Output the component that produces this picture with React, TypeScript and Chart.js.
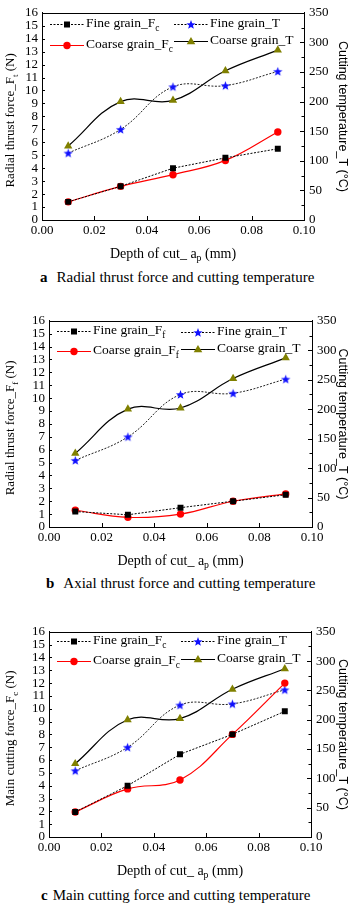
import React, { useEffect, useRef } from 'react';
import { Chart, registerables } from 'chart.js';

Chart.register(...registerables);

// ---------- data ----------
const depthOfCut = [0.01, 0.03, 0.05, 0.07, 0.09];
const xTickValues = [0, 0.02, 0.04, 0.06, 0.08, 0.1];
const forceTickValues = [0, 1, 2, 3, 4, 5, 6, 7, 8, 9, 10, 11, 12, 13, 14, 15, 16];
const tempTickValues = [0, 50, 100, 150, 200, 250, 300, 350];

const fineTemp = [113, 153, 225, 227, 251];
const coarseTemp = [125, 200, 202, 252, 287];

const fineRadial = [1.4, 2.6, 4.0, 4.8, 5.5];
const coarseRadial = [1.4, 2.6, 3.5, 4.6, 6.8];

const fineAxial = [1.2, 0.95, 1.5, 2.0, 2.5];
const coarseAxial = [1.3, 0.75, 1.0, 2.0, 2.57];

const fineMain = [1.95, 4.0, 6.45, 8.0, 9.8];
const coarseMain = [1.95, 3.75, 4.45, 8.0, 12.0];

const SERIF = "'Liberation Serif', 'Times New Roman', serif";
const SANS = "'Liberation Sans', Arial, sans-serif";

Chart.defaults.font.family = SERIF;
Chart.defaults.font.size = 13;
Chart.defaults.color = '#000';

type Part = [string, boolean];

type PanelDef = {
  plotTop: number;
  plotBottom: number;
  plotLeft: number;
  plotRight: number;
  fine: number[];
  coarse: number[];
  sub: string;
  yTitle: Part[];
  letter: string;
  caption: string;
  captionY: number;
  captionLeft: number;
  captionGap: number;
  legendRowsLeft: [number, number];
  legendRowsRight: [number, number];
};

const panels: PanelDef[] = [
  {
    plotTop: 9, plotBottom: 220, plotLeft: 42, plotRight: 304,
    fine: fineRadial, coarse: coarseRadial, sub: 'c',
    yTitle: [['Radial thrust force_F', false], ['t', true], [' (N)', false]],
    letter: 'a', caption: 'Radial thrust force and cutting temperature',
    captionY: 277, captionLeft: 40, captionGap: 9,
    legendRowsLeft: [11, 32], legendRowsRight: [11, 28],
  },
  {
    plotTop: 317, plotBottom: 527, plotLeft: 49, plotRight: 312,
    fine: fineAxial, coarse: coarseAxial, sub: 'f',
    yTitle: [['Radial thrust force_F', false], ['f', true], [' (N)', false]],
    letter: 'b', caption: 'Axial thrust force and cutting temperature',
    captionY: 583, captionLeft: 46, captionGap: 9,
    legendRowsLeft: [10, 30], legendRowsRight: [11, 28],
  },
  {
    plotTop: 628, plotBottom: 837, plotLeft: 49, plotRight: 311,
    fine: fineMain, coarse: coarseMain, sub: 'c',
    yTitle: [['Main cutting force_F', false], ['c', true], [' (N)', false]],
    letter: 'c', caption: 'Main cutting force and cutting temperature',
    captionY: 895, captionLeft: 41, captionGap: 5,
    legendRowsLeft: [9, 29], legendRowsRight: [9, 27],
  },
];

function drawRich(ctx: CanvasRenderingContext2D, parts: Part[], x: number, y: number, align: 'left' | 'center', size: number, family: string) {
  const fontFor = (sub: boolean) => `${sub ? size * 0.7 : size}px ${family}`;
  let total = 0;
  for (const [t, sub] of parts) {
    ctx.font = fontFor(sub);
    total += ctx.measureText(t).width;
  }
  let cx = align === 'center' ? x - total / 2 : x;
  ctx.textAlign = 'left';
  ctx.textBaseline = 'middle';
  for (const [t, sub] of parts) {
    ctx.font = fontFor(sub);
    ctx.fillText(t, cx, sub ? y + size * 0.32 : y);
    cx += ctx.measureText(t).width;
  }
}

function starPath(ctx: CanvasRenderingContext2D, cx: number, cy: number, ro: number, ri: number) {
  ctx.beginPath();
  for (let i = 0; i < 10; i++) {
    const r = i % 2 === 0 ? ro : ri;
    const a = -Math.PI / 2 + (i * Math.PI) / 5;
    const px = cx + r * Math.cos(a);
    const py = cy + r * Math.sin(a);
    if (i === 0) ctx.moveTo(px, py); else ctx.lineTo(px, py);
  }
  ctx.closePath();
}

function makeStar(): HTMLCanvasElement {
  const c = document.createElement('canvas');
  c.width = 11; c.height = 11;
  const g = c.getContext('2d')!;
  g.fillStyle = '#1010ff';
  starPath(g, 5.5, 5.9, 4.9, 2.0);
  g.fill();
  return c;
}

function drawMarker(ctx: CanvasRenderingContext2D, type: string, x: number, y: number) {
  ctx.save();
  ctx.setLineDash([]);
  if (type === 'rect') {
    ctx.fillStyle = '#000';
    ctx.fillRect(x - 3, y - 3, 6, 6);
  } else if (type === 'circle') {
    ctx.fillStyle = '#ff0000';
    ctx.beginPath();
    ctx.arc(x, y, 3.7, 0, Math.PI * 2);
    ctx.fill();
  } else if (type === 'star') {
    ctx.fillStyle = '#1010ff';
    starPath(ctx, x, y + 0.4, 4.9, 2.0);
    ctx.fill();
  } else if (type === 'triangle') {
    ctx.fillStyle = '#808000';
    ctx.beginPath();
    ctx.moveTo(x, y - 4.6);
    ctx.lineTo(x + 4.3, y + 2.8);
    ctx.lineTo(x - 4.3, y + 2.8);
    ctx.closePath();
    ctx.fill();
  }
  ctx.restore();
}

function ChartPanel({ p }: { p: PanelDef }) {
  const ref = useRef<HTMLCanvasElement | null>(null);
  const canvasTop = p.plotTop - 9;
  const xAxisHeight = 44;
  const H = p.plotBottom + xAxisHeight - canvasTop;
  const W = 363;

  useEffect(() => {
    const canvas = ref.current;
    if (!canvas) return;
    const star = makeStar();
    const pts = (arr: number[]) => depthOfCut.map((x, i) => ({ x, y: arr[i] }));

    const decor = {
      id: 'decor',
      afterDraw(chart: any) {
        const ctx: CanvasRenderingContext2D = chart.ctx;
        const a = chart.chartArea;
        const sx = chart.scales.x;
        const sy = chart.scales.y;
        const sy1 = chart.scales.y1;
        ctx.save();
        ctx.strokeStyle = '#000';
        ctx.lineWidth = 1;
        ctx.setLineDash([]);
        // top frame
        ctx.beginPath();
        ctx.moveTo(Math.round(a.left), Math.round(a.top) + 0.5);
        ctx.lineTo(Math.round(a.right) + 1, Math.round(a.top) + 0.5);
        ctx.stroke();
        // x ticks inward
        ctx.beginPath();
        for (const v of xTickValues) {
          const px = Math.round(sx.getPixelForValue(v)) + 0.5;
          ctx.moveTo(px, a.bottom);
          ctx.lineTo(px, a.bottom - 4);
        }
        // left ticks inward
        for (const v of forceTickValues) {
          const py = Math.round(sy.getPixelForValue(v)) + 0.5;
          ctx.moveTo(a.left, py);
          ctx.lineTo(a.left + 3, py);
        }
        // right ticks inward, major + minor
        for (let v = 0; v <= 350; v += 25) {
          const py = Math.round(sy1.getPixelForValue(v)) + 0.5;
          const len = v % 50 === 0 ? 4 : 2.5;
          ctx.moveTo(a.right, py);
          ctx.lineTo(a.right - len, py);
        }
        ctx.stroke();

        // legend
        const lx1 = a.left + 8;
        const lx2 = a.left + 132;
        const sampleLen = 34;
        const items = [
          { x: lx1, y: a.top + p.legendRowsLeft[0], dash: true, color: '#000', marker: 'rect', parts: [['Fine grain_F', false], [p.sub, true]] as Part[] },
          { x: lx1, y: a.top + p.legendRowsLeft[1], dash: false, color: '#ff0000', marker: 'circle', parts: [['Coarse grain_F', false], [p.sub, true]] as Part[] },
          { x: lx2, y: a.top + p.legendRowsRight[0], dash: true, color: '#000', marker: 'star', parts: [['Fine grain_T', false]] as Part[] },
          { x: lx2, y: a.top + p.legendRowsRight[1], dash: false, color: '#000', marker: 'triangle', parts: [['Coarse grain_T', false]] as Part[] },
        ];
        for (const it of items) {
          ctx.strokeStyle = it.color;
          ctx.lineWidth = 1;
          ctx.setLineDash(it.dash ? [2, 1.5] : []);
          ctx.beginPath();
          ctx.moveTo(it.x, Math.round(it.y) + 0.5);
          ctx.lineTo(it.x + sampleLen, Math.round(it.y) + 0.5);
          ctx.stroke();
          ctx.setLineDash([]);
          drawMarker(ctx, it.marker, it.x + sampleLen / 2, Math.round(it.y) + 0.5);
          ctx.fillStyle = '#000';
          drawRich(ctx, it.parts, it.x + sampleLen + 2, it.y, 'left', 13.5, SERIF);
        }

        // axis titles
        ctx.fillStyle = '#000';
        const cy = (a.top + a.bottom) / 2;
        ctx.save();
        ctx.translate(11, cy + 4);
        ctx.rotate(-Math.PI / 2);
        drawRich(ctx, p.yTitle, 0, 0, 'center', 13, SERIF);
        ctx.restore();
        ctx.save();
        ctx.translate(342, cy);
        ctx.rotate(Math.PI / 2);
        drawRich(ctx, [['Cutting temperature_T (°C)', false]], 0, 0, 'center', 12.5, SANS);
        ctx.restore();
        drawRich(ctx, [['Depth of cut_ a', false], ['p', true], [' (mm)', false]], (a.left + a.right) / 2, a.bottom + 34, 'center', 14, SERIF);
        ctx.restore();
      },
    };

    const tickFont = { family: SERIF, size: 13 };
    const chart = new Chart(canvas, {
      type: 'line',
      data: {
        datasets: [
          {
            label: 'Fine grain_F', data: pts(p.fine), yAxisID: 'y',
            borderColor: '#000', borderWidth: 1, borderDash: [2, 1.5], tension: 0,
            pointStyle: 'rect', pointRadius: 4.2, pointBackgroundColor: '#000', pointBorderColor: '#000', pointBorderWidth: 0,
          },
          {
            label: 'Coarse grain_F', data: pts(p.coarse), yAxisID: 'y',
            borderColor: '#ff0000', borderWidth: 1.2, tension: 0.4,
            pointStyle: 'circle', pointRadius: 3.7, pointBackgroundColor: '#ff0000', pointBorderColor: '#ff0000', pointBorderWidth: 0,
          },
          {
            label: 'Fine grain_T', data: pts(fineTemp), yAxisID: 'y1',
            borderColor: '#222', borderWidth: 1, borderDash: [2, 1.5], tension: 0.4,
            pointStyle: star as any, pointRadius: 5,
          },
          {
            label: 'Coarse grain_T', data: pts(coarseTemp), yAxisID: 'y1',
            borderColor: '#000', borderWidth: 1.2, tension: 0.4,
            pointStyle: 'triangle', pointRadius: 4.8, pointBackgroundColor: '#808000', pointBorderColor: '#808000', pointBorderWidth: 0,
          },
        ] as any,
      },
      options: {
        responsive: false,
        devicePixelRatio: 1,
        animation: false,
        events: [],
        layout: { padding: { top: 9, left: 0, right: 0, bottom: 0 } },
        plugins: { legend: { display: false }, tooltip: { enabled: false }, title: { display: false } },
        scales: {
          x: {
            type: 'linear', min: 0, max: 0.1,
            afterBuildTicks: (s: any) => { s.ticks = xTickValues.map((v) => ({ value: v })); },
            afterFit: (s: any) => { s.height = xAxisHeight; },
            ticks: { callback: (v: any) => Number(v).toFixed(2), font: tickFont, color: '#000', padding: 3, maxRotation: 0, autoSkip: false },
            grid: { drawOnChartArea: false, drawTicks: false },
            border: { color: '#000', width: 1 },
          },
          y: {
            position: 'left', min: 0, max: 16,
            afterBuildTicks: (s: any) => { s.ticks = forceTickValues.map((v) => ({ value: v })); },
            afterFit: (s: any) => { s.width = p.plotLeft; },
            ticks: { font: tickFont, color: '#000', padding: 4, autoSkip: false },
            grid: { drawOnChartArea: false, drawTicks: false },
            border: { color: '#000', width: 1 },
          },
          y1: {
            position: 'right', min: 0, max: 350,
            afterBuildTicks: (s: any) => { s.ticks = tempTickValues.map((v) => ({ value: v })); },
            afterFit: (s: any) => { s.width = W - p.plotRight; },
            ticks: { font: tickFont, color: '#000', padding: 5, autoSkip: false },
            grid: { drawOnChartArea: false, drawTicks: false },
            border: { color: '#000', width: 1 },
          },
        },
      } as any,
      plugins: [decor],
    });
    return () => chart.destroy();
  }, []);

  return (
    <>
      <canvas
        ref={ref}
        width={W}
        height={H}
        style={{ position: 'absolute', left: 0, top: canvasTop, width: W, height: H }}
      />
      <div
        style={{
          position: 'absolute', left: p.captionLeft, top: p.captionY - 9, height: 18, lineHeight: '18px',
          fontFamily: SERIF, fontSize: 15, color: '#000', whiteSpace: 'nowrap',
        }}
      >
        <b>{p.letter}</b>
        <span style={{ marginLeft: p.captionGap }}>{p.caption}</span>
      </div>
    </>
  );
}

export default function App() {
  return (
    <div style={{ position: 'absolute', left: 0, top: 0, width: 363, height: 907, background: '#fff', overflow: 'hidden' }}>
      {panels.map((p, i) => (
        <ChartPanel key={i} p={p} />
      ))}
    </div>
  );
}
